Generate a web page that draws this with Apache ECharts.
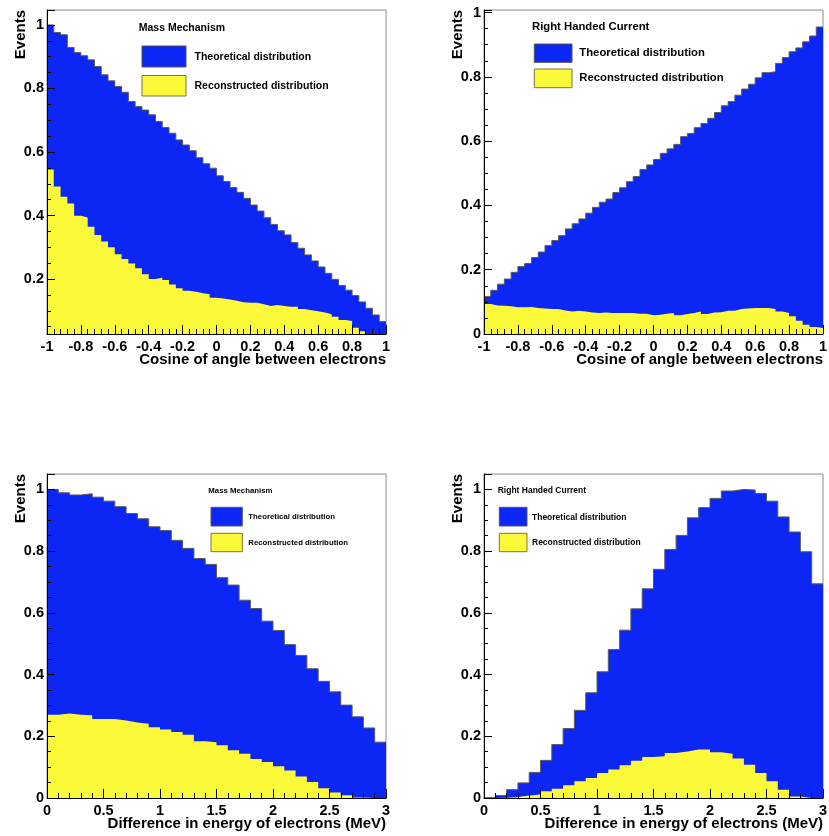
<!DOCTYPE html>
<html><head><meta charset="utf-8">
<script src="https://cdn.jsdelivr.net/npm/echarts@6/dist/echarts.min.js"></script>
<style>html,body{margin:0;padding:0;background:#fff}#c{width:829px;height:836px}</style>
</head><body><div id="c"></div>
<script>
// ---- data ----
const cosRange = [-1, 1];
const energyRange = [0, 3];

const massCosTheo = [1.000, 0.976, 0.969, 0.929, 0.913, 0.903, 0.890, 0.869, 0.843, 0.824,
  0.806, 0.788, 0.759, 0.743, 0.732, 0.717, 0.696, 0.677, 0.659, 0.638,
  0.622, 0.604, 0.582, 0.563, 0.549, 0.525, 0.507, 0.488, 0.473, 0.454,
  0.433, 0.414, 0.393, 0.372, 0.352, 0.339, 0.315, 0.297, 0.276, 0.257,
  0.238, 0.218, 0.199, 0.180, 0.165, 0.148, 0.128, 0.108, 0.087, 0.066];
const massCosReco = [0.545, 0.491, 0.459, 0.438, 0.399, 0.394, 0.365, 0.339, 0.318, 0.300,
  0.278, 0.263, 0.249, 0.234, 0.215, 0.200, 0.204, 0.197, 0.183, 0.171,
  0.163, 0.160, 0.155, 0.152, 0.141, 0.139, 0.136, 0.132, 0.127, 0.125,
  0.125, 0.121, 0.115, 0.118, 0.115, 0.113, 0.113, 0.106, 0.102, 0.099,
  0.095, 0.089, 0.081, 0.071, 0.068, 0.047, 0.036, 0.022, 0.016, 0.010];
const rhcCosTheo = [0.117, 0.136, 0.155, 0.171, 0.192, 0.210, 0.219, 0.238, 0.255, 0.275,
  0.291, 0.306, 0.327, 0.343, 0.358, 0.376, 0.394, 0.410, 0.420, 0.440,
  0.455, 0.474, 0.490, 0.512, 0.526, 0.543, 0.562, 0.576, 0.590, 0.614,
  0.624, 0.642, 0.655, 0.671, 0.689, 0.710, 0.723, 0.743, 0.762, 0.777,
  0.797, 0.813, 0.816, 0.842, 0.860, 0.878, 0.890, 0.909, 0.927, 0.955];
const rhcCosReco = [0.093, 0.089, 0.088, 0.086, 0.083, 0.083, 0.084, 0.081, 0.079, 0.078,
  0.078, 0.073, 0.070, 0.072, 0.070, 0.067, 0.065, 0.067, 0.065, 0.065,
  0.065, 0.065, 0.063, 0.063, 0.058, 0.060, 0.063, 0.065, 0.058, 0.062,
  0.065, 0.070, 0.062, 0.067, 0.068, 0.072, 0.072, 0.078, 0.079, 0.081,
  0.081, 0.081, 0.078, 0.070, 0.065, 0.055, 0.041, 0.029, 0.022, 0.019];
const massEnTheo = [1.000, 0.989, 0.982, 0.986, 0.975, 0.962, 0.944, 0.922, 0.905, 0.879,
  0.867, 0.835, 0.809, 0.776, 0.757, 0.714, 0.690, 0.641, 0.614, 0.573,
  0.543, 0.497, 0.462, 0.419, 0.378, 0.344, 0.301, 0.263, 0.227, 0.181];
const massEnReco = [0.270, 0.274, 0.270, 0.268, 0.256, 0.256, 0.251, 0.245, 0.241, 0.229,
  0.222, 0.214, 0.205, 0.184, 0.181, 0.171, 0.155, 0.143, 0.126, 0.117,
  0.103, 0.089, 0.070, 0.052, 0.032, 0.018, 0.009, 0.002, 0.000, 0.000];
const rhcEnTheo = [0.001, 0.008, 0.027, 0.049, 0.083, 0.122, 0.173, 0.225, 0.284, 0.341,
  0.409, 0.481, 0.544, 0.613, 0.678, 0.741, 0.805, 0.851, 0.908, 0.941,
  0.971, 0.995, 1.000, 0.998, 0.987, 0.962, 0.911, 0.862, 0.798, 0.694];
const rhcEnReco = [0.000, 0.001, 0.003, 0.008, 0.011, 0.022, 0.030, 0.041, 0.054, 0.065,
  0.081, 0.092, 0.106, 0.121, 0.133, 0.135, 0.146, 0.151, 0.157, 0.157,
  0.148, 0.143, 0.128, 0.108, 0.081, 0.054, 0.027, 0.005, 0.000, 0.000];

const seriesNames = ['Theoretical distribution', 'Reconstructed distribution'];
const panelTitles = ['Mass Mechanism', 'Right Handed Current', 'Mass Mechanism', 'Right Handed Current'];
const xTitles = ['Cosine of angle between electrons', 'Cosine of angle between electrons',
  'Difference in energy of electrons (MeV)', 'Difference in energy of electrons (MeV)'];
const yTitle = 'Events';

// ---- styling ----
const BLUE = '#0b26f5';
const YELLOW = '#fcf93a';
const FONT = '"Liberation Sans", Arial, Helvetica, sans-serif';

function stepData(vals, range) {
  const w = (range[1] - range[0]) / vals.length;
  const d = vals.map((v, i) => [range[0] + i * w, v]);
  d.push([range[1], vals[vals.length - 1]]);
  return d;
}

const panels = [
  {theo: massCosTheo, reco: massCosReco, range: cosRange, xInt: 0.2, yMin: 0.027, yMax: 1.047},
  {theo: rhcCosTheo, reco: rhcCosReco, range: cosRange, xInt: 0.2, yMin: 0, yMax: 1.008},
  {theo: massEnTheo, reco: massEnReco, range: energyRange, xInt: 0.5, yMin: 0, yMax: 1.05},
  {theo: rhcEnTheo, reco: rhcEnReco, range: energyRange, xInt: 0.5, yMin: 0, yMax: 1.05}
];
const grids = [
  {left: 47, top: 10, width: 339, height: 324},
  {left: 484, top: 10, width: 339, height: 324},
  {left: 47, top: 474, width: 339, height: 324},
  {left: 484, top: 474, width: 339, height: 324}
];

const labelStyle = {fontSize: 14.5, fontWeight: 'bold', fontFamily: FONT, color: '#000'};
const xAxes = [], yAxes = [], series = [];
panels.forEach((p, k) => {
  xAxes.push({
    type: 'value', gridIndex: k, min: p.range[0], max: p.range[1], interval: p.xInt, z: 10,
    axisLine: {show: true, onZero: false, lineStyle: {color: '#000', width: 1}},
    axisTick: {show: true, inside: true, length: 9, lineStyle: {color: '#000', width: 1}},
    minorTick: {show: true, splitNumber: 5, length: 5, lineStyle: {color: '#000', width: 1}},
    splitLine: {show: false}, minorSplitLine: {show: false},
    axisLabel: Object.assign({margin: 5}, labelStyle)
  });
  const y = {
    type: 'value', gridIndex: k, min: p.yMin, max: p.yMax, splitNumber: 5, z: 10,
    axisLine: {show: true, onZero: false, lineStyle: {color: '#000', width: 1}},
    axisTick: {show: true, inside: true, length: 8, lineStyle: {color: '#000', width: 1}},
    minorTick: {show: true, splitNumber: 4, length: 4, lineStyle: {color: '#000', width: 1}},
    splitLine: {show: false}, minorSplitLine: {show: false},
    axisLabel: Object.assign({margin: 3, formatter: function (v) {
      const q = v / 0.2;
      return Math.abs(q - Math.round(q)) < 1e-6 ? String(Math.round(v * 10) / 10) : '';
    }}, labelStyle)
  };
  if (p.yMin === 0) y.interval = 0.2;
  yAxes.push(y);
  series.push({
    name: seriesNames[0], type: 'line', xAxisIndex: k, yAxisIndex: k, step: 'end',
    data: stepData(p.theo, p.range), symbol: 'none', silent: true, animation: false,
    itemStyle: {color: BLUE}, lineStyle: {color: '#5a5a5a', width: 1},
    areaStyle: {color: BLUE, opacity: 1, origin: 'start'}, z: 2
  });
  series.push({
    name: seriesNames[1], type: 'line', xAxisIndex: k, yAxisIndex: k, step: 'end',
    data: stepData(p.reco, p.range), symbol: 'none', silent: true, animation: false,
    itemStyle: {color: YELLOW}, lineStyle: {color: YELLOW, width: 0, opacity: 0},
    areaStyle: {color: YELLOW, opacity: 1, origin: 'start'}, z: 3
  });
});

// legends / titles (positions per panel)
const legendBoxes = [
  {titleX: 138.7, titleY: 28.3, fs: 10.5, boxX: 142, boxW: 44, y1: 46, h1: 21, y2: 75.5, h2: 20.5, textX: 194.5, ty1: 56.7, ty2: 85.7},
  {titleX: 532, titleY: 27.3, fs: 11.3, boxX: 534.3, boxW: 37.7, y1: 44, h1: 18.3, y2: 69, h2: 18.7, textX: 579.3, ty1: 53.3, ty2: 78.3},
  {titleX: 208.3, titleY: 491, fs: 7.8, boxX: 211, boxW: 31.3, y1: 507.3, h1: 18.7, y2: 533.3, h2: 18.4, textX: 248.3, ty1: 517, ty2: 542.7},
  {titleX: 497.7, titleY: 491, fs: 8.5, boxX: 499.3, boxW: 27.7, y1: 507.3, h1: 18.7, y2: 533.3, h2: 18.4, textX: 532, ty1: 517.3, ty2: 543}
];
const graphics = [];
function txt(x, y, text, size, align, rot) {
  return {type: 'text', x: x, y: y, rotation: rot || 0, silent: true, z: 20,
    style: {text: text, font: 'bold ' + size + 'px ' + FONT, fill: '#000',
      align: align, textAlign: align, verticalAlign: 'middle', textVerticalAlign: 'middle'}};
}
legendBoxes.forEach((L, k) => {
  graphics.push(txt(L.titleX, L.titleY, panelTitles[k], L.fs, 'left'));
  graphics.push({type: 'rect', silent: true, z: 20, shape: {x: L.boxX, y: L.y1, width: L.boxW, height: L.h1},
    style: {fill: BLUE, stroke: '#555', lineWidth: 1}});
  graphics.push({type: 'rect', silent: true, z: 20, shape: {x: L.boxX, y: L.y2, width: L.boxW, height: L.h2},
    style: {fill: YELLOW, stroke: '#7a7440', lineWidth: 1}});
  graphics.push(txt(L.textX, L.ty1, seriesNames[0], L.fs, 'left'));
  graphics.push(txt(L.textX, L.ty2, seriesNames[1], L.fs, 'left'));
  const g = grids[k];
  graphics.push(txt(g.left + g.width, g.top + g.height + 26, xTitles[k], 15, 'right'));
  graphics.push(txt(g.left - 26, g.top, yTitle, 15, 'right', Math.PI / 2));
});

const chart = echarts.init(document.getElementById('c'), null, {renderer: 'canvas'});
chart.setOption({
  backgroundColor: '#fff',
  animation: false,
  grid: grids.map(g => Object.assign({show: true, borderColor: '#8c8c8c', borderWidth: 1,
    backgroundColor: 'transparent', containLabel: false, outerBoundsMode: 'none'}, g)),
  xAxis: xAxes,
  yAxis: yAxes,
  series: series,
  graphic: graphics
});
</script></body></html>
